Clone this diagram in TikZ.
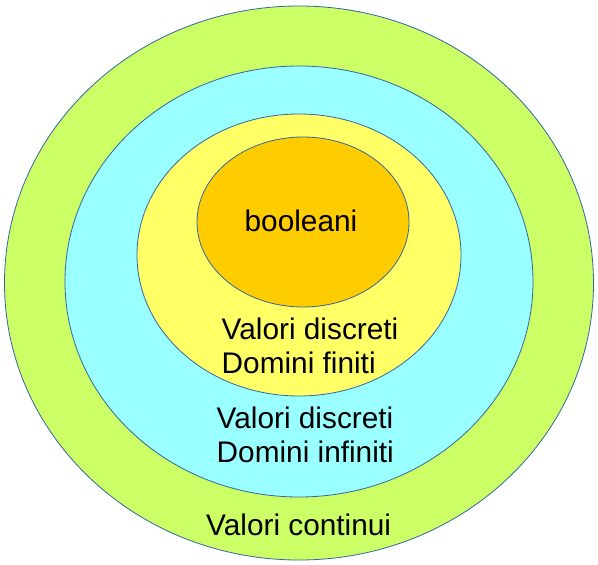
\documentclass[tikz,border=0pt]{standalone}
\usepackage{fontspec}
\setmainfont{Liberation Sans}
\definecolor{cgreen}{HTML}{CCFF66}
\definecolor{ccyan}{HTML}{99FFFF}
\definecolor{cyellow}{HTML}{FFFF66}
\definecolor{corange}{HTML}{FFCC00}
\definecolor{cedge}{HTML}{3465A4}
\tikzset{
  ring/.style={draw=cedge, line width=0.8pt},
  lbl/.style={inner sep=0pt, anchor=base west, font=\fontsize{29.8}{34}\selectfont},
}
\begin{document}
\begin{tikzpicture}[x=1pt, y=-1pt]
\useasboundingbox (0,0) rectangle (598,565);
\fill[white] (0,0) rectangle (598,565);
\draw[ring, fill=cgreen] (299,283) ellipse [x radius=294.5, y radius=277];
\draw[ring, fill=ccyan] (299,281.5) ellipse [x radius=234, y radius=215.5];
\draw[ring, fill=cyellow] (299,255) ellipse [x radius=162, y radius=141];
\draw[ring, fill=corange] (303,222) ellipse [x radius=106, y radius=85];
\node[lbl, anchor=base] (bool) at (301,231) {booleani};
\node[lbl] (yl1) at (221.5,339) {Valori discreti};
\node[lbl] (yl2) at (221.5,373) {Domini finiti};
\node[lbl] (cl1) at (216.5,428) {Valori discreti};
\node[lbl] (cl2) at (216.5,462) {Domini infiniti};
\node[lbl] (gl1) at (206,535.5) {Valori continui};
\end{tikzpicture}
\end{document}
